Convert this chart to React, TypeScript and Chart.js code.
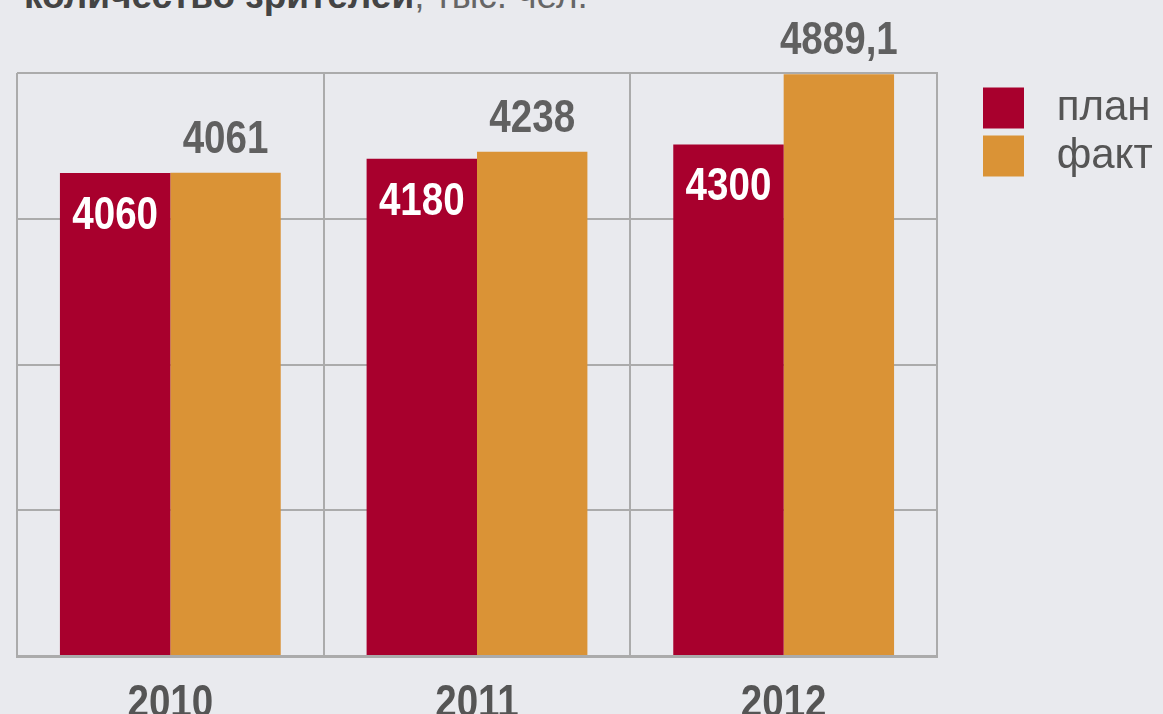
import React, { useEffect, useRef } from 'react';
import { Chart, registerables } from 'chart.js';

Chart.register(...registerables);

const years = ['2010', '2011', '2012'];
const planValues = [4060, 4180, 4300];
const factValues = [4061, 4238, 4889.1];
const seriesNames = ['план', 'факт'];
const seriesColors = ['#a8002d', '#da9336'];
const yMax = 4900;
const yStep = 1225;

const BOLD_FONT = 'bold 47px "Liberation Sans", Arial, sans-serif';
const SQUEEZE = 0.82;
const fmt = (v: number) => String(v).replace('.', ',');

function drawSqueezed(ctx: CanvasRenderingContext2D, text: string, x: number, y: number, color: string) {
  ctx.save();
  ctx.translate(x, y);
  ctx.scale(SQUEEZE, 1);
  ctx.font = BOLD_FONT;
  ctx.textAlign = 'center';
  ctx.textBaseline = 'alphabetic';
  ctx.fillStyle = color;
  ctx.fillText(text, 0, 0);
  ctx.restore();
}

const condensedText = {
  id: 'condensedText',
  afterDatasetsDraw(chart: any) {
    const ctx = chart.ctx as CanvasRenderingContext2D;
    chart.data.datasets.forEach((ds: any, di: number) => {
      const meta = chart.getDatasetMeta(di);
      meta.data.forEach((bar: any, i: number) => {
        const v = ds.data[i] as number;
        const { x, y } = bar.getProps(['x', 'y'], true);
        if (di === 0) drawSqueezed(ctx, fmt(v), x, y + 56, '#ffffff');
        else drawSqueezed(ctx, fmt(v), x, y - 20, '#606060');
      });
    });
    // category labels of the x axis, condensed like the original
    const xs = chart.scales.x;
    const base = chart.chartArea.bottom;
    xs.ticks.forEach((t: any, i: number) => {
      const label = String(xs.getLabelForValue(t.value));
      drawSqueezed(ctx, label, xs.getPixelForTick(i), base + 61, '#555555');
    });
  },
};

export default function App() {
  const ref = useRef<HTMLCanvasElement | null>(null);

  useEffect(() => {
    if (!ref.current) return;
    const m = document.createElement('canvas').getContext('2d')!;
    m.font = '42px "Liberation Sans", sans-serif';
    const tw = Math.max(...seriesNames.map((n) => m.measureText(' ' + n).width));
    const legendW = 41 + 21 + tw + 6 + 10;
    const slack = 1163 - 937 - legendW;
    const yWidth = Math.max(0, Math.min(40, slack));
    const padRight = Math.max(0, slack - yWidth);

    const chart = new Chart(ref.current, {
      type: 'bar',
      data: {
        labels: years,
        datasets: [
          {
            label: seriesNames[0],
            data: planValues,
            backgroundColor: seriesColors[0],
            borderWidth: 0,
            categoryPercentage: 0.72,
            barPercentage: 1.0,
          },
          {
            label: seriesNames[1],
            data: factValues,
            backgroundColor: seriesColors[1],
            borderWidth: 0,
            categoryPercentage: 0.72,
            barPercentage: 1.0,
          },
        ],
      },
      options: {
        animation: false,
        responsive: true,
        maintainAspectRatio: false,
        devicePixelRatio: 1,
        layout: { padding: { left: 17, top: 73, right: padRight, bottom: 58 } },
        plugins: {
          tooltip: { enabled: false },
          title: { display: false },
          legend: {
            position: 'right',
            align: 'start',
            title: { display: true, text: '', font: { size: 4, lineHeight: 1 }, padding: { top: 4, bottom: 0 } },
            labels: {
              boxWidth: 41,
              boxHeight: 41,
              padding: 6,
              color: '#555555',
              font: { family: '"Liberation Sans", sans-serif', size: 42 },
              generateLabels: (c: any) =>
                (Chart.defaults.plugins.legend.labels.generateLabels as any)(c).map((it: any) => ({
                  ...it,
                  text: ' ' + it.text,
                  lineWidth: 0,
                })),
            },
          },
        },
        scales: {
          x: {
            grid: { color: '#ababab', lineWidth: 2, offset: true, drawTicks: false },
            border: { display: true, color: '#ababab', width: 3 },
            ticks: { display: false },
          },
          y: {
            position: 'right',
            min: 0,
            max: yMax,
            ticks: { display: false, stepSize: yStep },
            grid: { color: '#ababab', lineWidth: 2, drawTicks: false },
            border: { display: true, color: '#ababab', width: 2 },
            afterFit: (s: any) => {
              s.width = yWidth;
            },
          },
        },
      },
      plugins: [condensedText],
    });
    return () => chart.destroy();
  }, []);

  return (
    <div
      style={{
        position: 'fixed',
        left: 0,
        top: 0,
        width: 1163,
        height: 714,
        overflow: 'hidden',
        background: '#e9eaee',
      }}
    >
      <div
        style={{
          position: 'absolute',
          left: 24,
          top: -23,
          fontFamily: '"Liberation Sans", sans-serif',
          fontSize: 37,
          lineHeight: '37px',
          whiteSpace: 'nowrap',
        }}
      >
        <span style={{ fontWeight: 'bold', color: '#444444' }}>количество зрителей</span>
        <span style={{ color: '#666666' }}>, тыс. чел.</span>
      </div>
      <div style={{ position: 'absolute', left: 0, top: 0, width: 1163, height: 714 }}>
        <canvas ref={ref} />
      </div>
    </div>
  );
}
